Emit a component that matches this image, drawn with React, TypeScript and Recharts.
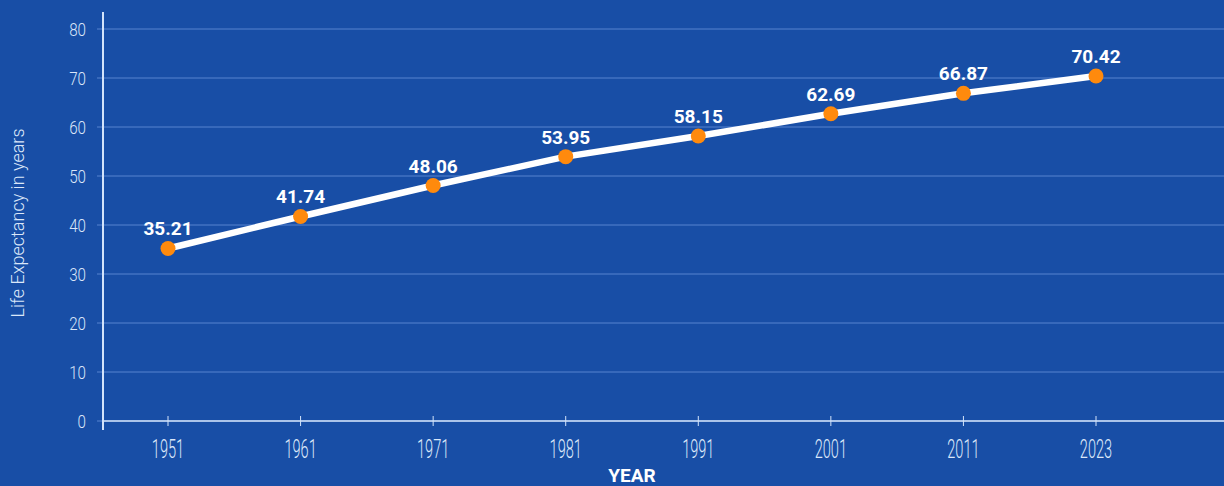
import { LineChart, Line, XAxis, YAxis, CartesianGrid, LabelList } from "recharts";

const years = ["1951", "1961", "1971", "1981", "1991", "2001", "2011", "2023"];
const lifeExpectancy = [35.21, 41.74, 48.06, 53.95, 58.15, 62.69, 66.87, 70.42];
const yTicks = [0, 10, 20, 30, 40, 50, 60, 70, 80];

const data = years.map((year, i) => ({ year, value: lifeExpectancy[i] }));

const BG = "#184ea6";
const GRID = "#5683cf";
const AXIS = "#d3e3fa";
const TICK_TEXT = "#dbe7f9";
const PAD_LEFT = 65;
const PAD_RIGHT = 128;

function XTick({ x, y, payload }: any) {
  return (
    <g>
      <line x1={x} x2={x} y1={y - 5} y2={y + 5} stroke={AXIS} strokeWidth={1} />
      <text
        x={0}
        y={0}
        transform={`translate(${x} ${y + 37}) scale(0.56 1)`}
        textAnchor="middle"
        fill={TICK_TEXT}
        fontSize={26}
        fontWeight={300}
        fontFamily="Roboto, sans-serif"
      >
        {payload.value}
      </text>
    </g>
  );
}

function YTick({ x, y, payload }: any) {
  return (
    <g>
      <line x1={x - 6} x2={x} y1={y} y2={y} stroke={GRID} strokeWidth={1} />
      <text
        x={0}
        y={0}
        transform={`translate(${x - 17} ${y + 7}) scale(0.8 1)`}
        textAnchor="end"
        fill={TICK_TEXT}
        fontSize={19}
        fontWeight={300}
        fontFamily="Roboto, sans-serif"
      >
        {payload.value}
      </text>
    </g>
  );
}

function YLabel({ viewBox }: any) {
  const cx = viewBox.x + 17;
  const cy = viewBox.y + viewBox.height / 2 - 2;
  return (
    <text
      x={cx}
      y={cy}
      transform={`rotate(-90 ${cx} ${cy})`}
      textAnchor="middle"
      dominantBaseline="central"
      fill={TICK_TEXT}
      fontSize={18}
      fontWeight={300}
      fontFamily="Roboto, sans-serif"
    >
      Life Expectancy in years
    </text>
  );
}

function XLabel({ viewBox }: any) {
  const cx = viewBox.x + PAD_LEFT + (viewBox.width - PAD_LEFT - PAD_RIGHT) / 2;
  return (
    <text
      x={cx}
      y={viewBox.y + 61}
      textAnchor="middle"
      fill="#ffffff"
      fontSize={19}
      fontWeight={700}
      fontFamily="Roboto, sans-serif"
    >
      YEAR
    </text>
  );
}

export default function App() {
  return (
    <div style={{ position: "fixed", left: 0, top: 0, width: 1224, height: 486, background: BG }}>
      <LineChart width={1224} height={486} data={data} margin={{ top: 29, right: 0, bottom: 0, left: 0 }}>
        <CartesianGrid vertical={false} stroke={GRID} strokeWidth={1} />
        <XAxis
          dataKey="year"
          padding={{ left: PAD_LEFT, right: PAD_RIGHT }}
          height={65}
          axisLine={{ stroke: AXIS, strokeWidth: 1.5 }}
          tickLine={false}
          tickSize={0}
          tickMargin={0}
          tick={<XTick />}
          interval={0}
          label={<XLabel />}
        />
        <YAxis
          width={103}
          domain={[0, 80]}
          ticks={yTicks}
          axisLine={false}
          tickLine={false}
          tickSize={0}
          tickMargin={0}
          tick={<YTick />}
          label={<YLabel />}
        />
        <Line
          dataKey="value"
          stroke="#ffffff"
          strokeWidth={6.5}
          isAnimationActive={false}
          dot={{ r: 7.5, fill: "#ff8a0d", stroke: "none" }}
          activeDot={false}
        >
          <LabelList
            dataKey="value"
            position="top"
            offset={13}
            fill="#ffffff"
            fontSize={19}
            fontWeight={700}
            fontFamily="Roboto, sans-serif"
          />
        </Line>
      </LineChart>
      <div style={{ position: "absolute", left: 102, top: 12, width: 1.5, height: 418, background: AXIS }} />
    </div>
  );
}
